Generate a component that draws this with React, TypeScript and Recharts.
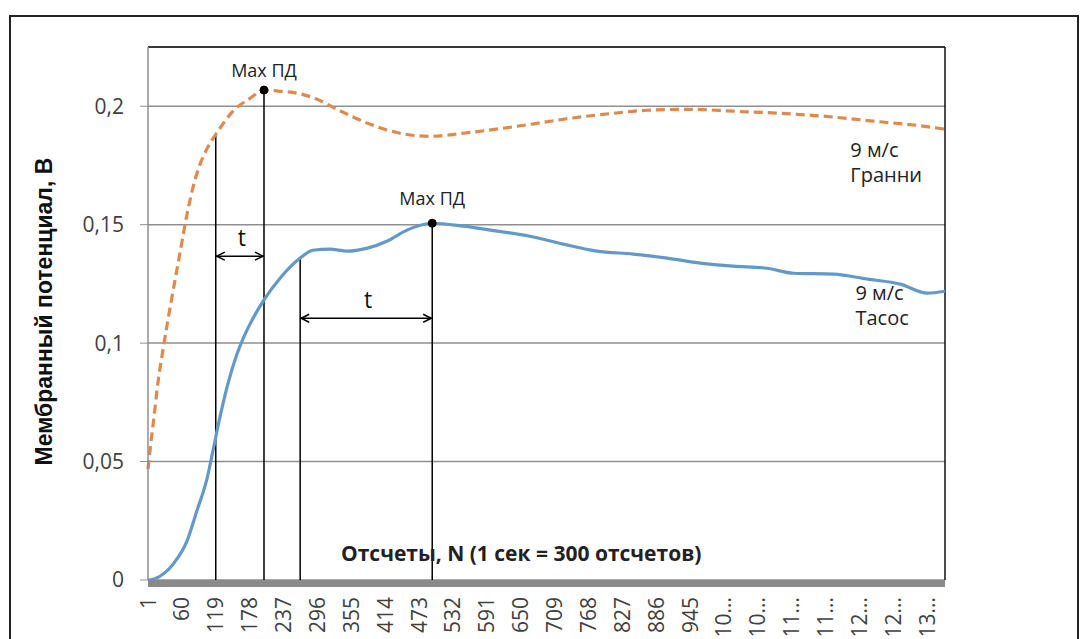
import React from 'react';
import { LineChart, Line, XAxis, YAxis, CartesianGrid, ReferenceLine, ReferenceDot } from 'recharts';

// отсчеты (N) и мембранный потенциал, В
const granniN = [1, 5, 10, 18, 29, 43, 57, 69, 86, 104, 121, 149, 179, 203, 231, 261, 295, 330, 388, 440, 492, 550, 619, 679, 736, 811, 870, 945, 1020, 1102, 1177, 1264, 1351, 1389];
const granniV = [0.0468, 0.0557, 0.0658, 0.0827, 0.1, 0.1198, 0.1385, 0.1545, 0.1715, 0.1822, 0.1888, 0.1979, 0.2034, 0.2068, 0.2063, 0.2055, 0.203, 0.1987, 0.1924, 0.1886, 0.1873, 0.1886, 0.1907, 0.1928, 0.1949, 0.197, 0.1983, 0.1987, 0.1979, 0.197, 0.1958, 0.1937, 0.1916, 0.1903];

const tasosN = [1, 13, 30, 45, 69, 86, 104, 114, 126, 140, 156, 167, 184, 205, 231, 266, 288, 318, 348, 383, 417, 452, 496, 550, 609, 666, 724, 783, 846, 905, 963, 1020, 1079, 1125, 1195, 1254, 1311, 1358, 1389];
const tasosV = [0, 0.0005, 0.003, 0.0068, 0.0165, 0.0291, 0.043, 0.0544, 0.0684, 0.0827, 0.0954, 0.1021, 0.1105, 0.119, 0.1274, 0.1359, 0.1392, 0.1397, 0.1388, 0.1401, 0.143, 0.1477, 0.1506, 0.1494, 0.1473, 0.1451, 0.1418, 0.1388, 0.1376, 0.1359, 0.1338, 0.1325, 0.1316, 0.1295, 0.1291, 0.127, 0.1249, 0.1211, 0.1219];

const xTicks = [1, 60, 119, 178, 237, 296, 355, 414, 473, 532, 591, 650, 709, 768, 827, 886, 945, 1004, 1063, 1122, 1181, 1240, 1299, 1358];
const xTickLabels = ['1', '60', '119', '178', '237', '296', '355', '414', '473', '532', '591', '650', '709', '768', '827', '886', '945', '10...', '10...', '11...', '11...', '12...', '12...', '13...'];
const yTicks = [0, 0.05, 0.1, 0.15, 0.2];
const yTickLabels = ['0', '0,05', '0,1', '0,15', '0,2'];

// вертикальные линии-маркеры
const markerN = [119, 203, 266, 496];
const markerTop = [0.1888, 0.2068, 0.1359, 0.1506];
// Max ПД точки
const peakN = [203, 496];
const peakV = [0.2068, 0.1506];
const peakOffset = [9, 14];
// стрелки t: от, до, уровень
const arrowFrom = [119, 266];
const arrowTo = [203, 496];
const arrowV = [0.1367, 0.1105];

const granniData = granniN.map((n, i) => ({ n, v: granniV[i] }));
const tasosData = tasosN.map((n, i) => ({ n, v: tasosV[i] }));

const FONT = '"Open Sans", sans-serif';

const XTick = ({ x, y, payload }: any) => (
  <g transform={`translate(${x},${y + 17})`}>
    <text transform="rotate(-90)" textAnchor="end" dy="0.36em" fontSize={21} fill="#404040" fontFamily={FONT}>
      {xTickLabels[xTicks.indexOf(payload.value)]}
    </text>
  </g>
);

const Arrow = (props: any) => {
  const { x1, y1, x2 } = props;
  const mid = (x1 + x2) / 2;
  return (
    <g>
      <line x1={x1} y1={y1} x2={x2} y2={y1} stroke="#000" strokeWidth={1.5} />
      <path d={`M${x1 + 9},${y1 - 4} L${x1 + 1},${y1} L${x1 + 9},${y1 + 4}`} fill="none" stroke="#000" strokeWidth={1.5} />
      <path d={`M${x2 - 9},${y1 - 4} L${x2 - 1},${y1} L${x2 - 9},${y1 + 4}`} fill="none" stroke="#000" strokeWidth={1.5} />
      <text x={mid + 2} y={y1 - 10} textAnchor="middle" fontSize={23} fontFamily={FONT} fill="#111">t</text>
    </g>
  );
};

const twoLines = (a: string, b: string) => (props: any) => (
  <g>
    <text x={props.cx} y={props.cy - 1} fontSize={20} fontFamily={FONT} fill="#222">{a}</text>
    <text x={props.cx} y={props.cy + 24} fontSize={20} fontFamily={FONT} fill="#222">{b}</text>
  </g>
);

const xTitle = (props: any) => (
  <text x={props.cx} y={props.cy} textAnchor="middle" fontSize={21} fontWeight="bold" fontFamily={FONT} fill="#222">
    Отсчеты, N (1 сек = 300 отсчетов)
  </text>
);

export default function App() {
  return (
    <div style={{ position: 'absolute', left: 0, top: 0, width: 1085, height: 639, background: '#fff', overflow: 'hidden' }}>
      <div style={{ position: 'absolute', left: 9, top: 15, width: 1066, height: 700, border: '2px solid #222' }} />
      <div style={{ position: 'absolute', left: 0, top: 0 }}>
        <LineChart width={1085} height={639} margin={{ top: 47, right: 140, left: 0, bottom: 0 }}>
          <CartesianGrid vertical={false} stroke="#8f8f8f" strokeWidth={1.5} />
          <XAxis
            type="number"
            dataKey="n"
            domain={[1, 1389]}
            ticks={xTicks}
            interval={0}
            height={59}
            tickLine={false}
            tickSize={0}
            tickMargin={0}
            tick={<XTick />}
            axisLine={{ stroke: '#8a8a8a', strokeWidth: 7, transform: 'translate(0,3.5)' }}
          />
          <YAxis
            type="number"
            domain={[0, 0.225]}
            ticks={yTicks}
            width={148}
            tickSize={8}
            tickMargin={16}
            tickLine={{ stroke: '#8f8f8f' }}
            axisLine={{ stroke: '#8f8f8f', strokeWidth: 1.5 }}
            tickFormatter={(v: number) => yTickLabels[yTicks.indexOf(v)]}
            tick={{ fontSize: 21, fill: '#404040', fontFamily: FONT }}
            label={{
              content: (p: any) => {
                const cx = 44;
                const cy = p.viewBox.y + p.viewBox.height / 2 - 2;
                return (
                  <text x={cx} y={cy} transform={`rotate(-90,${cx},${cy})`} textAnchor="middle" dominantBaseline="central"
                    fontSize={23} fontWeight="bold" fontFamily='"Liberation Sans", Arial, sans-serif' fill="#111">
                    Мембранный потенциал, В
                  </text>
                );
              },
            }}
          />
          <ReferenceLine y={0.225} stroke="#111" strokeWidth={1.5} />
          <ReferenceLine x={1389} stroke="#111" strokeWidth={1.5} />

          {markerN.map((n, i) => (
            <ReferenceLine key={'m' + i} segment={[{ x: n, y: 0 }, { x: n, y: markerTop[i] }]} stroke="#000" strokeWidth={1.5} />
          ))}
          {arrowFrom.map((n, i) => (
            <ReferenceLine key={'a' + i} segment={[{ x: n, y: arrowV[i] }, { x: arrowTo[i], y: arrowV[i] }]} shape={Arrow} />
          ))}

          <Line data={granniData} dataKey="v" type="monotone" stroke="#e0894c" strokeWidth={3.2} strokeDasharray="9 5" dot={false} isAnimationActive={false} />
          <Line data={tasosData} dataKey="v" type="monotone" stroke="#6399c9" strokeWidth={3.2} dot={false} isAnimationActive={false} />

          {peakN.map((n, i) => (
            <ReferenceDot key={'p' + i} x={n} y={peakV[i]} r={4} fill="#000" stroke="#000"
              label={{ value: 'Max ПД', position: 'top', offset: peakOffset[i], fontSize: 18, fill: '#222', fontFamily: FONT }} />
          ))}

          <ReferenceDot x={1224} y={0.178} r={0} shape={twoLines('9 м/с', 'Гранни')} />
          <ReferenceDot x={1233} y={0.1177} r={0} shape={twoLines('9 м/с', 'Тасос')} />
          <ReferenceDot x={651} y={0.008} r={0} shape={xTitle} />
        </LineChart>
      </div>
    </div>
  );
}
